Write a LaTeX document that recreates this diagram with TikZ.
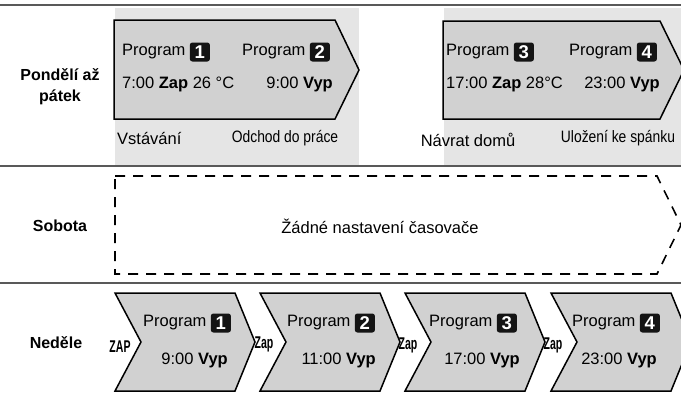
\documentclass[tikz,border=0pt]{standalone}
\usepackage{fontspec}
\setmainfont{Liberation Sans}
\usepackage{graphicx}
\usepackage{tikz}
\usetikzlibrary{positioning}

\newcommand{\txtsize}{\fontsize{16.5}{18}\selectfont}
\newcommand{\daysize}{\fontsize{16}{21}\selectfont}
\newcommand{\numsize}{\fontsize{18.5}{18}\selectfont}
\newcommand{\zapsize}{\fontsize{17}{17}\selectfont}
\newcommand{\squeezed}[1]{\scalebox{0.84}[1]{#1}}

\begin{document}
\begin{tikzpicture}[x=1pt,y=-1pt,
  sep/.style={black!65, line width=1.5pt},
  band/.style={fill=black!10, draw=none},
  prog/.style={fill=black!18, draw=black, line width=1.5pt, line join=miter},
  none/.style={draw=black, line width=1.6pt, dash pattern=on 10pt off 8pt},
  day/.style={font=\daysize\bfseries, align=center, inner sep=0pt},
  txt/.style={font=\txtsize, inner sep=0pt},
  numbox/.style={fill=black!92, text=white, font=\numsize\bfseries, rounded corners=2.5pt,
    minimum width=20pt, minimum height=19pt, inner sep=0pt},
  zap/.style={font=\zapsize\bfseries, inner sep=0pt}]
\useasboundingbox (0,0) rectangle (681,399);

% pozadi a cary
\fill[band] (115,8) rectangle (359,165);
\fill[band] (444,8) rectangle (681,165);
\draw[sep] (0,5) -- (681,5);
\draw[sep] (0,166) -- (681,166);
\draw[sep] (0,283) -- (681,283);

% pondeli az patek
\node[day] (po) at (60,87) {Pondělí až\\pátek};
\draw[prog] (114,20) -- (335,20) -- (359,70) -- (335,119) -- (114,119) -- cycle;
\draw[prog] (443,21) -- (660,21) -- (684,70) -- (660,119) -- (443,119) -- cycle;
\node[txt, anchor=west] (pa1) at (122,52) {Program};
\node[numbox, right=4pt of pa1] (na1) {1};
\node[txt, anchor=west] (ta1) at (122,84) {7:00 \textbf{Zap} 26 °C};
\node[txt, anchor=west] (pa2) at (242,52) {Program};
\node[numbox, right=4pt of pa2] (na2) {2};
\node[txt, anchor=east] (ta2) at (333,84) {9:00 \textbf{Vyp}};
\node[txt, anchor=west] (pa3) at (446,52) {Program};
\node[numbox, right=4pt of pa3] (na3) {3};
\node[txt, anchor=west] (ta3) at (446,84) {17:00 \textbf{Zap} 28°C};
\node[txt, anchor=west] (pa4) at (569,52) {Program};
\node[numbox, right=4pt of pa4] (na4) {4};
\node[txt, anchor=east] (ta4) at (660,84) {23:00 \textbf{Vyp}};
\node[txt, anchor=west] (la1) at (117,139) {Vstávání};
\node[txt] (la2) at (285,138) {\squeezed{Odchod do práce}};
\node[txt] (la3) at (468,140) {Návrat domů};
\node[txt] (la4) at (618,138) {\squeezed{Uložení ke spánku}};

% sobota
\node[day] (so) at (60,226) {Sobota};
\draw[none] (115,176) -- (657,176) -- (681,225) -- (657,274) -- (115,274) -- cycle;
\node[txt] (zadne) at (380,226) {Žádné nastavení časovače};

% nedele
\node[day] (ne) at (56,343) {Neděle};
\foreach \l/\n/\tm/\px/\tx in {115/1/9:00/143/228, 260/2/11:00/287/376,
    405/3/17:00/429/520, 551/4/23:00/572/657} {
  \draw[prog] (\l,293) -- ++(120,0) -- ++(20,49) -- ++(-20,49) -- ++(-120,0)
    -- ++(26,-49) -- cycle;
  \node[txt, anchor=west] (pn\n) at (\px,323) {Program};
  \node[numbox, right=4pt of pn\n] (nn\n) {\n};
  \node[txt, anchor=east] (tn\n) at (\tx,360) {\tm{} \textbf{Vyp}};
}
\node[zap] (z1) at (120,347) {\scalebox{0.62}[1]{ZAP}};
\node[zap] (z2) at (264,344) {\scalebox{0.62}[1]{Zap}};
\node[zap] (z3) at (408,345) {\scalebox{0.62}[1]{Zap}};
\node[zap] (z4) at (553,345) {\scalebox{0.62}[1]{Zap}};
\end{tikzpicture}
\end{document}
